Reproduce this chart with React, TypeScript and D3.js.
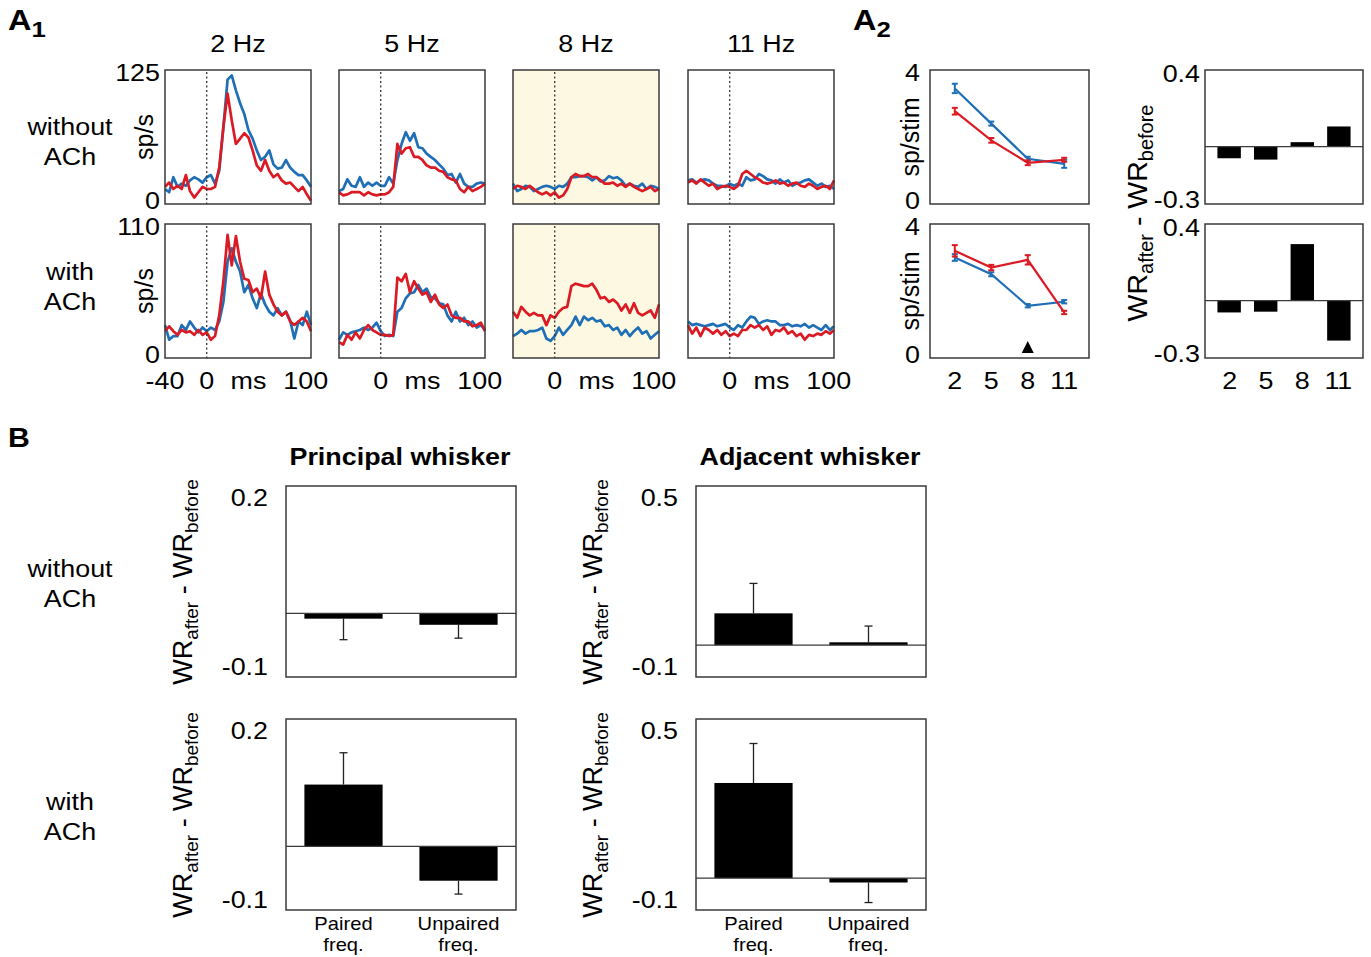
import React from "react";
import * as d3 from "d3";

// ---- data ----
const binTimes = [-40, -36, -32, -28, -24, -20, -16, -12, -8, -4, 0, 4, 8, 12, 16, 20, 24, 28, 32, 36, 40, 44, 48, 52, 56, 60, 64, 68, 72, 76, 80, 84, 88, 92, 96, 100];
const freqLabels = ["2 Hz", "5 Hz", "8 Hz", "11 Hz"];

// PSTHs without ACh (sp/s), blue = before, red = after
const noAch2Before = [14, 11, 25, 16, 19, 17, 22, 25, 23, 20, 25, 27, 19, 31, 72, 116, 120, 106, 94, 84, 69, 61, 50, 41, 44, 50, 37, 33, 34, 41, 34, 30, 27, 27, 22, 16];
const noAch2After = [16, 20, 14, 17, 14, 27, 12, 6, 11, 16, 14, 14, 16, 34, 72, 103, 78, 56, 61, 66, 62, 50, 36, 31, 41, 31, 25, 28, 22, 19, 20, 16, 12, 16, 9, 3];
const noAch5Before = [12, 14, 23, 17, 16, 25, 16, 20, 17, 20, 17, 17, 25, 19, 41, 56, 67, 59, 66, 53, 52, 47, 44, 41, 37, 33, 27, 28, 20, 28, 19, 16, 16, 19, 20, 19];
const noAch5After = [11, 8, 9, 11, 11, 11, 8, 11, 9, 8, 9, 9, 11, 16, 56, 47, 52, 53, 44, 44, 41, 36, 34, 34, 31, 30, 25, 23, 22, 14, 11, 16, 12, 14, 16, 19];
const noAch8Before = [19, 12, 14, 17, 16, 12, 14, 16, 17, 16, 14, 17, 16, 19, 25, 25, 26, 26, 25, 22, 25, 21, 22, 26, 24, 25, 22, 17, 19, 17, 16, 19, 14, 17, 16, 14];
const noAch8After = [14, 17, 16, 14, 17, 14, 11, 9, 11, 8, 11, 6, 8, 14, 25, 28, 26, 26, 28, 25, 25, 22, 19, 19, 20, 17, 19, 16, 19, 16, 14, 12, 14, 16, 12, 14];
const noAch11Before = [22, 23, 20, 22, 23, 22, 19, 17, 17, 16, 19, 17, 19, 17, 25, 22, 23, 28, 26, 23, 22, 19, 23, 20, 22, 17, 19, 20, 22, 23, 20, 17, 19, 16, 17, 14];
const noAch11After = [20, 22, 19, 23, 20, 17, 19, 14, 16, 17, 16, 14, 17, 28, 31, 28, 25, 23, 20, 19, 20, 22, 19, 20, 17, 19, 20, 17, 16, 19, 17, 14, 16, 17, 14, 22];

// PSTHs with ACh (sp/s)
const ach2Before = [27, 15, 18, 18, 27, 23, 30, 25, 21, 25, 22, 25, 23, 30, 46, 79, 90, 79, 71, 54, 60, 49, 41, 53, 44, 38, 35, 41, 35, 38, 31, 16, 30, 27, 38, 27];
const ach2After = [22, 26, 22, 19, 23, 21, 22, 19, 23, 19, 21, 15, 18, 35, 63, 101, 76, 100, 79, 65, 64, 54, 57, 49, 71, 52, 44, 38, 35, 38, 30, 27, 30, 33, 30, 22];
const ach5Before = [15, 21, 19, 21, 22, 23, 25, 23, 25, 29, 22, 18, 19, 18, 38, 41, 49, 53, 54, 60, 54, 57, 50, 49, 45, 44, 35, 30, 38, 30, 33, 27, 30, 25, 27, 23];
const ach5After = [13, 11, 19, 15, 21, 16, 23, 27, 23, 21, 19, 19, 18, 19, 66, 63, 69, 54, 63, 57, 52, 54, 46, 52, 44, 41, 44, 35, 33, 33, 30, 30, 26, 27, 29, 22];
const ach8Before = [18, 20, 23, 20, 22, 22, 23, 25, 16, 14, 18, 25, 19, 23, 27, 34, 27, 34, 31, 33, 30, 31, 26, 27, 23, 25, 19, 23, 18, 22, 25, 20, 22, 16, 19, 22];
const ach8After = [38, 33, 42, 38, 35, 37, 35, 35, 27, 35, 33, 38, 41, 42, 59, 61, 60, 59, 59, 61, 56, 49, 50, 46, 48, 45, 39, 44, 37, 45, 37, 35, 37, 39, 33, 44];
const ach11Before = [30, 27, 28, 27, 26, 27, 28, 26, 27, 28, 25, 23, 27, 25, 30, 34, 33, 28, 30, 31, 30, 30, 27, 27, 28, 26, 27, 26, 28, 25, 27, 25, 23, 27, 23, 26];
const ach11After = [27, 20, 25, 18, 25, 23, 20, 23, 19, 22, 18, 20, 18, 23, 23, 27, 25, 27, 23, 26, 19, 23, 22, 25, 20, 22, 18, 20, 15, 19, 18, 20, 19, 22, 20, 23];

// A2: spikes per stimulus
const stimFreqs = ["2", "5", "8", "11"];
const spNoAchBefore = [3.45, 2.4, 1.35, 1.2];
const spNoAchBeforeErr = [0.14, 0.06, 0.06, 0.12];
const spNoAchAfter = [2.77, 1.9, 1.23, 1.32];
const spNoAchAfterErr = [0.1, 0.07, 0.07, 0.06];
const spAchBefore = [3.0, 2.5, 1.56, 1.68];
const spAchBeforeErr = [0.1, 0.06, 0.05, 0.05];
const spAchAfter = [3.2, 2.7, 2.93, 1.36];
const spAchAfterErr = [0.17, 0.08, 0.14, 0.05];

// A2: WR after - WR before
const wrNoAch = [-0.061, -0.068, 0.023, 0.105];
const wrAch = [-0.062, -0.058, 0.295, -0.209];

// B: principal / adjacent whisker
const pairCats = ["Paired", "Unpaired"];
const pwNoAch = [-0.0084, -0.018];
const pwNoAchErr = [0.033, 0.021];
const awNoAch = [0.1, 0.009];
const awNoAchErr = [0.094, 0.051];
const pwAch = [0.097, -0.054];
const pwAchErr = [0.05, 0.021];
const awAch = [0.299, -0.0136];
const awAchErr = [0.124, 0.063];

const BLUE = "#1f6fb6";
const RED = "#dc1a24";
const FRAME = "#3a3a3a";
const FONT = "'Liberation Sans', Arial, sans-serif";
const STRETCH = 1.12; // the figure's lettering is a bit wider than Arial

const psthRows = [
  { top: 70, yMax: 125, traces: [[noAch2Before, noAch2After], [noAch5Before, noAch5After], [noAch8Before, noAch8After], [noAch11Before, noAch11After]] },
  { top: 224, yMax: 110, traces: [[ach2Before, ach2After], [ach5Before, ach5After], [ach8Before, ach8After], [ach11Before, ach11After]] },
];
const panelLeft = [165, 339, 513, 688];
const PW = 146;
const PH = 134;

// horizontal text, slightly widened
const HText = ({ x, y, anchor = "start", size = 24, bold = false, children }: any) => (
  <text transform={`translate(${x},${y}) scale(${STRETCH},1)`} textAnchor={anchor} fontSize={size} fontWeight={bold ? "bold" : "normal"}>
    {children}
  </text>
);

const WRLabel = ({ x, y, size = 27 }: { x: number; y: number; size?: number }) => (
  <text transform={`translate(${x},${y}) rotate(-90)`} textAnchor="middle" fontSize={size}>
    WR<tspan fontSize={size * 0.7} dy={6}>after</tspan>
    <tspan dy={-6}> - WR</tspan>
    <tspan fontSize={size * 0.7} dy={6}>before</tspan>
  </text>
);

function Psth({ left, top, yMax, before, after, shaded }: any) {
  const x = d3.scaleLinear().domain([-40, 100]).range([left, left + PW]);
  const y = d3.scaleLinear().domain([0, yMax]).range([top + PH, top]);
  const line = d3
    .line<number>()
    .x((_, i) => x(binTimes[i]))
    .y((d) => y(d));
  return (
    <g>
      <rect x={left} y={top} width={PW} height={PH} fill={shaded ? "#fdf8e1" : "#fff"} />
      <path d={line(before) || ""} fill="none" stroke={BLUE} strokeWidth={2.7} strokeLinejoin="round" />
      <path d={line(after) || ""} fill="none" stroke={RED} strokeWidth={2.7} strokeLinejoin="round" />
      <line x1={x(0)} x2={x(0)} y1={top + 2} y2={top + PH} stroke="#333" strokeWidth={1.3} strokeDasharray="2,2.5" />
      <rect x={left} y={top} width={PW} height={PH} fill="none" stroke={FRAME} strokeWidth={1.5} />
    </g>
  );
}

function SpPlot({ top, before, beforeErr, after, afterErr, arrow }: any) {
  const left = 930, w = 159;
  const x = d3.scalePoint().domain(stimFreqs).range([left, left + w]).padding(0.68);
  const y = d3.scaleLinear().domain([0, 4]).range([top + PH, top]);
  const line = d3
    .line<number>()
    .x((_, i) => x(stimFreqs[i]) as number)
    .y((d) => y(d));
  const series = [
    { v: before, e: beforeErr, c: BLUE },
    { v: after, e: afterErr, c: RED },
  ];
  return (
    <g>
      <rect x={left} y={top} width={w} height={PH} fill="#fff" stroke={FRAME} strokeWidth={1.5} />
      {series.map((s, k) => (
        <g key={k}>
          <path d={line(s.v) || ""} fill="none" stroke={s.c} strokeWidth={2.2} />
          {s.v.map((v: number, i: number) => {
            const cx = x(stimFreqs[i]) as number;
            return (
              <g key={i} stroke={s.c} strokeWidth={2}>
                <line x1={cx} x2={cx} y1={y(v - s.e[i])} y2={y(v + s.e[i])} />
                <line x1={cx - 3} x2={cx + 3} y1={y(v - s.e[i])} y2={y(v - s.e[i])} />
                <line x1={cx - 3} x2={cx + 3} y1={y(v + s.e[i])} y2={y(v + s.e[i])} />
              </g>
            );
          })}
        </g>
      ))}
      {arrow && (
        <path
          d={`M${x("8")},${top + PH - 17} L${(x("8") as number) - 6},${top + PH - 5} L${(x("8") as number) + 6},${top + PH - 5} Z`}
          fill="#000"
        />
      )}
      <HText x={left - 10} y={y(4) + 11} anchor="end">4</HText>
      <HText x={left - 10} y={y(0) + 5} anchor="end">0</HText>
      <text transform={`translate(${left - 11},${top + 67}) rotate(-90)`} textAnchor="middle" fontSize={25}>sp/stim</text>
    </g>
  );
}

function WrBars({ top, values }: any) {
  const left = 1205, w = 158;
  const x = d3.scaleBand().domain(stimFreqs).range([left, left + w]).paddingInner(0.36).paddingOuter(0.34);
  const y = d3.scaleLinear().domain([-0.3, 0.4]).range([top + PH, top]);
  return (
    <g>
      <rect x={left} y={top} width={w} height={PH} fill="#fff" stroke={FRAME} strokeWidth={1.5} />
      {values.map((v: number, i: number) => (
        <rect key={i} x={x(stimFreqs[i])} width={x.bandwidth()} y={Math.min(y(v), y(0))} height={Math.abs(y(v) - y(0))} fill="#000" />
      ))}
      <line x1={left} x2={left + w} y1={y(0)} y2={y(0)} stroke={FRAME} strokeWidth={1.3} />
      <HText x={left - 5} y={y(0.4) + 12} anchor="end">0.4</HText>
      <HText x={left - 5} y={y(-0.3) + 4} anchor="end">-0.3</HText>
    </g>
  );
}

function PairBars({ left, top, yMin, yMax, values, errs, showCats }: any) {
  const w = 230, h = 191;
  const x = d3.scaleBand().domain(pairCats).range([left, left + w]).paddingInner(0.32).paddingOuter(0.16);
  const y = d3.scaleLinear().domain([yMin, yMax]).range([top + h, top]);
  return (
    <g>
      <rect x={left} y={top} width={w} height={h} fill="#fff" stroke={FRAME} strokeWidth={1.5} />
      {values.map((v: number, i: number) => {
        const bx = x(pairCats[i]) as number;
        const cx = bx + x.bandwidth() / 2;
        const tip = v >= 0 ? v + errs[i] : v - errs[i];
        return (
          <g key={i}>
            <line x1={cx} x2={cx} y1={y(v)} y2={y(tip)} stroke="#222" strokeWidth={1.3} />
            <line x1={cx - 4} x2={cx + 4} y1={y(tip)} y2={y(tip)} stroke="#222" strokeWidth={1.3} />
            <rect x={bx} width={x.bandwidth()} y={Math.min(y(v), y(0))} height={Math.abs(y(v) - y(0))} fill="#000" />
          </g>
        );
      })}
      <line x1={left} x2={left + w} y1={y(0)} y2={y(0)} stroke={FRAME} strokeWidth={1.3} />
      <HText x={left - 18} y={top + 20} anchor="end">{yMax}</HText>
      <HText x={left - 18} y={top + h - 2} anchor="end">{yMin}</HText>
      {showCats &&
        pairCats.map((c) => {
          const cx = (x(c) as number) + x.bandwidth() / 2;
          return (
            <g key={c}>
              <HText x={cx} y={top + h + 20} anchor="middle" size={18}>{c}</HText>
              <HText x={cx} y={top + h + 41} anchor="middle" size={18}>freq.</HText>
            </g>
          );
        })}
      <WRLabel x={left - 94} y={top + 96} />
    </g>
  );
}

export default function App() {
  return (
    <svg width={1371} height={957} style={{ position: "absolute", left: 0, top: 0, background: "#fff" }} fontFamily={FONT} fill="#000">
      <rect width={1371} height={957} fill="#fff" />
      {/* panel letters */}
      <HText x={8} y={30} size={29} bold>A<tspan fontSize={23} dy={7}>1</tspan></HText>
      <HText x={853} y={30} size={29} bold>A<tspan fontSize={23} dy={7}>2</tspan></HText>
      <HText x={8} y={447} size={27} bold>B</HText>

      {/* A1 */}
      {freqLabels.map((f, j) => (
        <HText key={f} x={panelLeft[j] + PW / 2} y={52} anchor="middle">{f}</HText>
      ))}
      {psthRows.map((row, r) =>
        row.traces.map((tr, j) => (
          <Psth key={`${r}-${j}`} left={panelLeft[j]} top={row.top} yMax={row.yMax} before={tr[0]} after={tr[1]} shaded={j === 2} />
        ))
      )}
      {psthRows.map((row, r) => (
        <g key={r}>
          <HText x={160} y={row.top + 11} anchor="end">{row.yMax}</HText>
          <HText x={160} y={row.top + PH + 5} anchor="end">0</HText>
          <text transform={`translate(153,${row.top + 67}) rotate(-90)`} textAnchor="middle" fontSize={25}>sp/s</text>
        </g>
      ))}
      {panelLeft.map((l, j) => {
        const x = d3.scaleLinear().domain([-40, 100]).range([l, l + PW]);
        return (
          <g key={j}>
            {j === 0 && <HText x={x(-40)} y={389} anchor="middle">-40</HText>}
            <HText x={x(0)} y={389} anchor="middle">0</HText>
            <HText x={x(40)} y={389} anchor="middle">ms</HText>
            <HText x={x(95)} y={389} anchor="middle">100</HText>
          </g>
        );
      })}
      <HText x={70} y={135} anchor="middle">without</HText>
      <HText x={70} y={165} anchor="middle">ACh</HText>
      <HText x={70} y={280} anchor="middle">with</HText>
      <HText x={70} y={310} anchor="middle">ACh</HText>

      {/* A2 */}
      <SpPlot top={70} before={spNoAchBefore} beforeErr={spNoAchBeforeErr} after={spNoAchAfter} afterErr={spNoAchAfterErr} />
      <SpPlot top={224} before={spAchBefore} beforeErr={spAchBeforeErr} after={spAchAfter} afterErr={spAchAfterErr} arrow />
      <WrBars top={70} values={wrNoAch} />
      <WrBars top={224} values={wrAch} />
      <WRLabel x={1147} y={213} size={28.5} />
      {[930, 1205].map((l, k) => {
        const x = d3.scalePoint().domain(stimFreqs).range([l, l + (k ? 158 : 159)]).padding(0.68);
        return (
          <g key={k}>
            {stimFreqs.map((f) => (
              <HText key={f} x={x(f)} y={389} anchor="middle">{f}</HText>
            ))}
          </g>
        );
      })}

      {/* B */}
      <HText x={400} y={465} anchor="middle" bold>Principal whisker</HText>
      <HText x={810} y={465} anchor="middle" bold>Adjacent whisker</HText>
      <PairBars left={286} top={486} yMin={-0.1} yMax={0.2} values={pwNoAch} errs={pwNoAchErr} />
      <PairBars left={696} top={486} yMin={-0.1} yMax={0.5} values={awNoAch} errs={awNoAchErr} />
      <PairBars left={286} top={719} yMin={-0.1} yMax={0.2} values={pwAch} errs={pwAchErr} showCats />
      <PairBars left={696} top={719} yMin={-0.1} yMax={0.5} values={awAch} errs={awAchErr} showCats />
      <HText x={70} y={577} anchor="middle">without</HText>
      <HText x={70} y={607} anchor="middle">ACh</HText>
      <HText x={70} y={810} anchor="middle">with</HText>
      <HText x={70} y={840} anchor="middle">ACh</HText>
    </svg>
  );
}
